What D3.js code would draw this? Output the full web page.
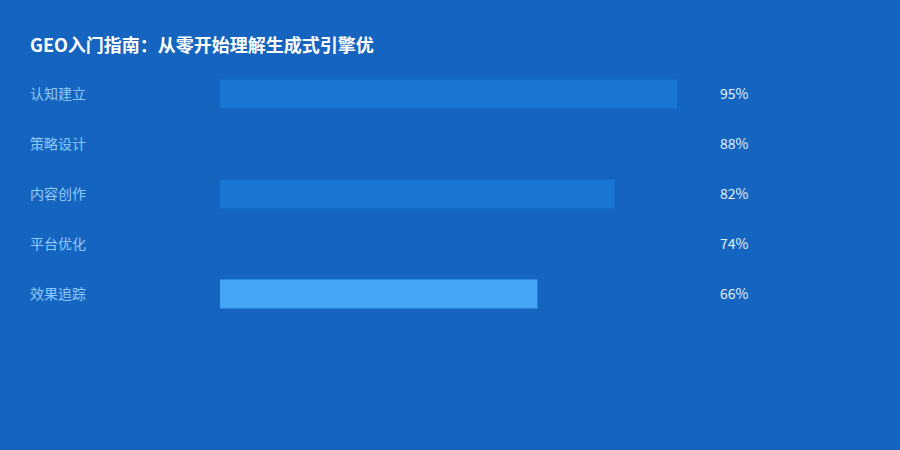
<!DOCTYPE html>
<html>
<head>
<meta charset="utf-8">
<script src="https://cdn.jsdelivr.net/npm/d3@7"></script>
<style>
  body { margin: 0; background: #1565C0; }
  svg { display: block; font-family: "Noto Sans CJK SC", "Noto Sans", sans-serif; }
</style>
</head>
<body>
<svg id="chart" width="900" height="450"></svg>
<script>
// chart data
const title = "GEO入门指南：从零开始理解生成式引擎优";
const steps = ["认知建立", "策略设计", "内容创作", "平台优化", "效果追踪"];
const percents = [95, 88, 82, 74, 66];
const barColors = ["#1976D2", "#1565C0", "#1976D2", "#1565C0", "#42A5F5"];

let chart = d3.select("#chart");
let width = 900, height = 450;

chart.append("rect")
    .attr("width", width)
    .attr("height", height)
    .attr("fill", "#1565C0");

chart.append("text")
    .text(title)
    .attr("x", 30)
    .attr("y", 52)
    .attr("fill", "#ffffff")
    .attr("font-size", "18px")
    .attr("font-weight", "bold");

let xScale = d3.scaleLinear()
    .domain([0, 100])
    .range([220, 701]);

let yScale = d3.scaleBand()
    .domain(steps)
    .range([69, 319])
    .paddingInner(0.42)
    .paddingOuter(0.21);

let rows = steps.map((s, i) => ({ step: s, pct: percents[i], color: barColors[i] }));

chart.selectAll("rect.bar")
    .data(rows).enter()
    .append("rect")
        .attr("class", "bar")
        .attr("x", xScale(0))
        .attr("y", d => yScale(d.step))
        .attr("width", d => xScale(d.pct) - xScale(0))
        .attr("height", yScale.bandwidth())
        .attr("fill", d => d.color);

chart.selectAll("text.label")
    .data(rows).enter()
    .append("text")
        .attr("class", "label")
        .text(d => d.step)
        .attr("x", 30)
        .attr("y", d => yScale(d.step) + yScale.bandwidth() / 2)
        .attr("dy", "0.35em")
        .attr("fill", "#90CAF9")
        .attr("font-size", "14px");

chart.selectAll("text.value")
    .data(rows).enter()
    .append("text")
        .attr("class", "value")
        .text(d => d.pct + "%")
        .attr("x", 720)
        .attr("y", d => yScale(d.step) + yScale.bandwidth() / 2)
        .attr("dy", "0.35em")
        .attr("fill", "#E3F2FD")
        .attr("font-size", "14px");
</script>
</body>
</html>
